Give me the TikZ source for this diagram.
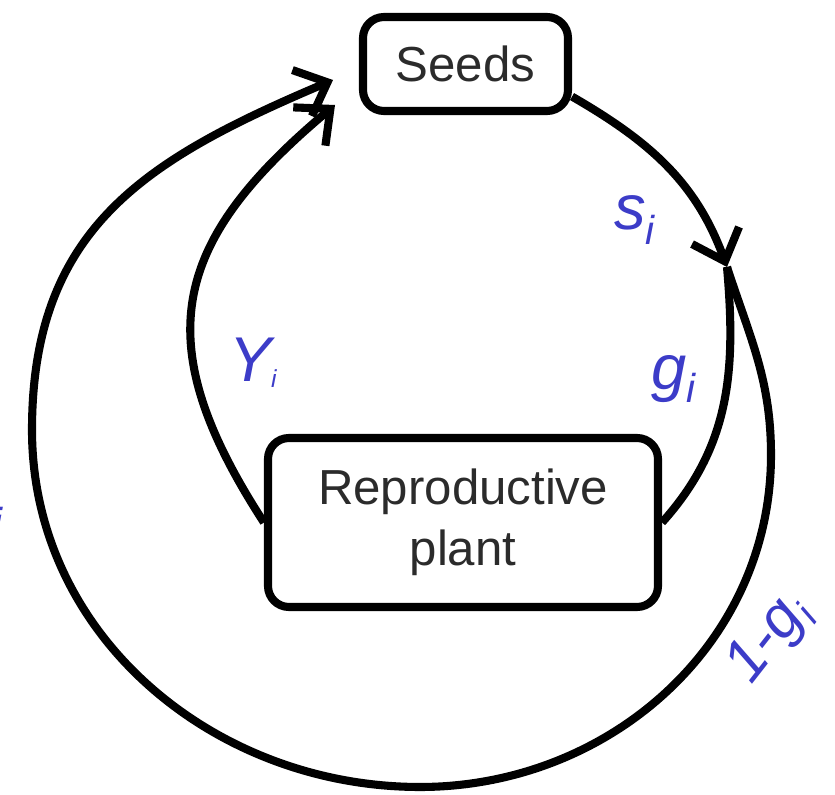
\documentclass[tikz,border=0pt]{standalone}
\usepackage{fontspec}
\setmainfont{Liberation Sans}
\usetikzlibrary{arrows.meta,positioning}
\definecolor{lblblue}{HTML}{3C3CC8}
\definecolor{txtgray}{HTML}{2B2B2B}
\newcommand{\subidx}[2]{\raisebox{#1}{\fontsize{#2}{#2}\selectfont i}}

\begin{document}
\begin{tikzpicture}[line width=4.6pt,
    box/.style={draw, rounded corners=0.42cm, align=center, text=txtgray, font=\fontsize{28}{35}\selectfont},
    arr/.style={-{Straight Barb[length=0.55cm, width=1.0cm]}},
    lbl/.style={text=lblblue, inner sep=0pt, anchor=base west, font=\fontsize{36}{36}\selectfont\itshape}]
      \useasboundingbox (0,0) rectangle (16.7,15.9);
      \node[box, minimum width=4.1cm, minimum height=1.88cm] (seeds) at (9.31, 14.62) {Seeds};
      \node[box, minimum width=7.8cm, minimum height=3.38cm] (plant) at (9.26, 5.45) {Reproductive\\plant};
      \coordinate (split) at (14.54, 10.56);
      \coordinate (tipOut) at (6.66, 14.3);
      \coordinate (tipIn) at (6.7, 13.8);
      \draw[arr] (seeds.-17) to[out=-30, in=110] (split);
      \draw (split) to[out=-85, in=48] (plant.east);
      \draw[arr] (split) to[out=-72, in=90] (15.42, 6.8) to[out=-90, in=0] (8.4, 0.16)
        to[out=180, in=-90] (0.64, 7.3) to[out=90, in=-157, looseness=1.12] (tipOut);
      \draw[arr] (plant.west) to[out=123, in=-140, looseness=1.3] (tipIn);
      \node[lbl] (ls) at (12.2, 11.3) {s\subidx{-0.3cm}{23}};
      \node[lbl] (lg) at (12.94, 8.1) {g\subidx{-0.26cm}{23}};
      \node[lbl] (ly) at (4.5, 8.26) {Y\subidx{-0.12cm}{14}};
      \node[lbl, rotate=52, font=\fontsize{34}{34}\selectfont\itshape] (lout) at (14.98, 2.12) {1-g\subidx{-0.26cm}{22}};
      \node[lbl, anchor=base east, font=\fontsize{23}{23}\selectfont\itshape] (lcut) at (0.14, 5.16) {i};
    \end{tikzpicture}
\end{document}
